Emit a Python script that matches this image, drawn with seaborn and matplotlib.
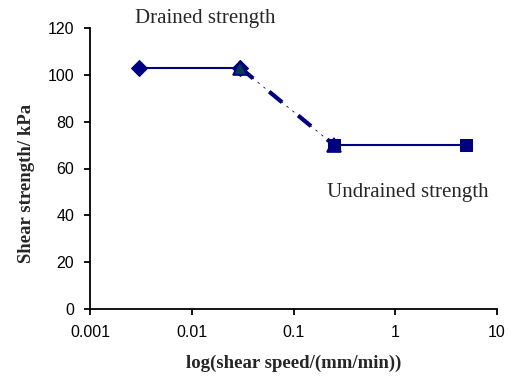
import matplotlib
matplotlib.use("Agg")
import matplotlib.pyplot as plt
import seaborn as sns
import pandas as pd
from matplotlib.ticker import FixedLocator, NullLocator, FixedFormatter

sns.set_theme(style="ticks")
plt.rcParams['font.family'] = ['Liberation Sans', 'DejaVu Sans']

drained_speed = [0.003, 0.03]
drained_strength = [103, 103]
trans_speed = [0.03, 0.25]
trans_strength = [103, 70]
undrained_speed = [0.25, 5]
undrained_strength = [70, 70]
x_ticks = [0.001, 0.01, 0.1, 1, 10]
x_labels = ["0.001", "0.01", "0.1", "1", "10"]
y_ticks = [0, 20, 40, 60, 80, 100, 120]

navy = "#000080"

fig = plt.figure(figsize=(5.12, 3.78), dpi=100)
ax = fig.add_axes([90/512, 1-309/378, 407/512, 281/378])

d1 = pd.DataFrame({"x": drained_speed, "y": drained_strength})
d2 = pd.DataFrame({"x": trans_speed, "y": trans_strength})
d3 = pd.DataFrame({"x": undrained_speed, "y": undrained_strength})

sns.lineplot(data=d1, x="x", y="y", ax=ax, color=navy, lw=1.5, marker="D",
             markersize=8.5, markeredgecolor=navy, markerfacecolor=navy)
sns.lineplot(data=d2, x="x", y="y", ax=ax, color=navy, lw=3.0)
ax.lines[-1].set_dashes([4, 5])
sns.lineplot(data=d2, x="x", y="y", ax=ax, color=navy, lw=0.6,
             marker="^", markersize=9.5, markeredgecolor=navy, markerfacecolor="#003c5a",
             markeredgewidth=1.2)
ax.lines[-1].set_dashes([3, 6])
sns.lineplot(data=d3, x="x", y="y", ax=ax, color=navy, lw=1.5, marker="s",
             markersize=8, markeredgecolor=navy, markerfacecolor=navy)

ax.set_xscale("log")
ax.set_xlim(0.001, 10)
ax.set_ylim(0, 120)
ax.xaxis.set_major_locator(FixedLocator(x_ticks))
ax.xaxis.set_major_formatter(FixedFormatter(x_labels))
ax.xaxis.set_minor_locator(NullLocator())
ax.set_yticks(y_ticks)

for s in ["top", "right"]:
    ax.spines[s].set_visible(False)
for s in ["left", "bottom"]:
    ax.spines[s].set_linewidth(1.3)
    ax.spines[s].set_color("black")
ax.tick_params(axis="both", labelsize=11.5, width=1.3, length=4.5, colors="black", pad=7)

ax.set_xlabel("log(shear speed/(mm/min))", fontfamily="Liberation Serif",
              fontweight="bold", fontsize=13.5)
ax.set_ylabel("Shear strength/ kPa", fontfamily="Liberation Serif",
              fontweight="bold", fontsize=13.5)
ax.xaxis.set_label_coords(0.5, -(363 - 309) / 281, transform=ax.transAxes)
ax.xaxis.label.set_va("center")
ax.yaxis.set_label_coords(-(90 - 27) / 407, (309 - 183.5) / 281, transform=ax.transAxes)
ax.yaxis.label.set_va("center")

fig.text(135/512, 1-18/378, "Drained strength", fontfamily="Liberation Serif",
         fontsize=15, va="center", ha="left")
fig.text(327/512, 1-192/378, "Undrained strength", fontfamily="Liberation Serif",
         fontsize=15, va="center", ha="left")

ax.grid(False)
fig.savefig("out.png", dpi=100)
